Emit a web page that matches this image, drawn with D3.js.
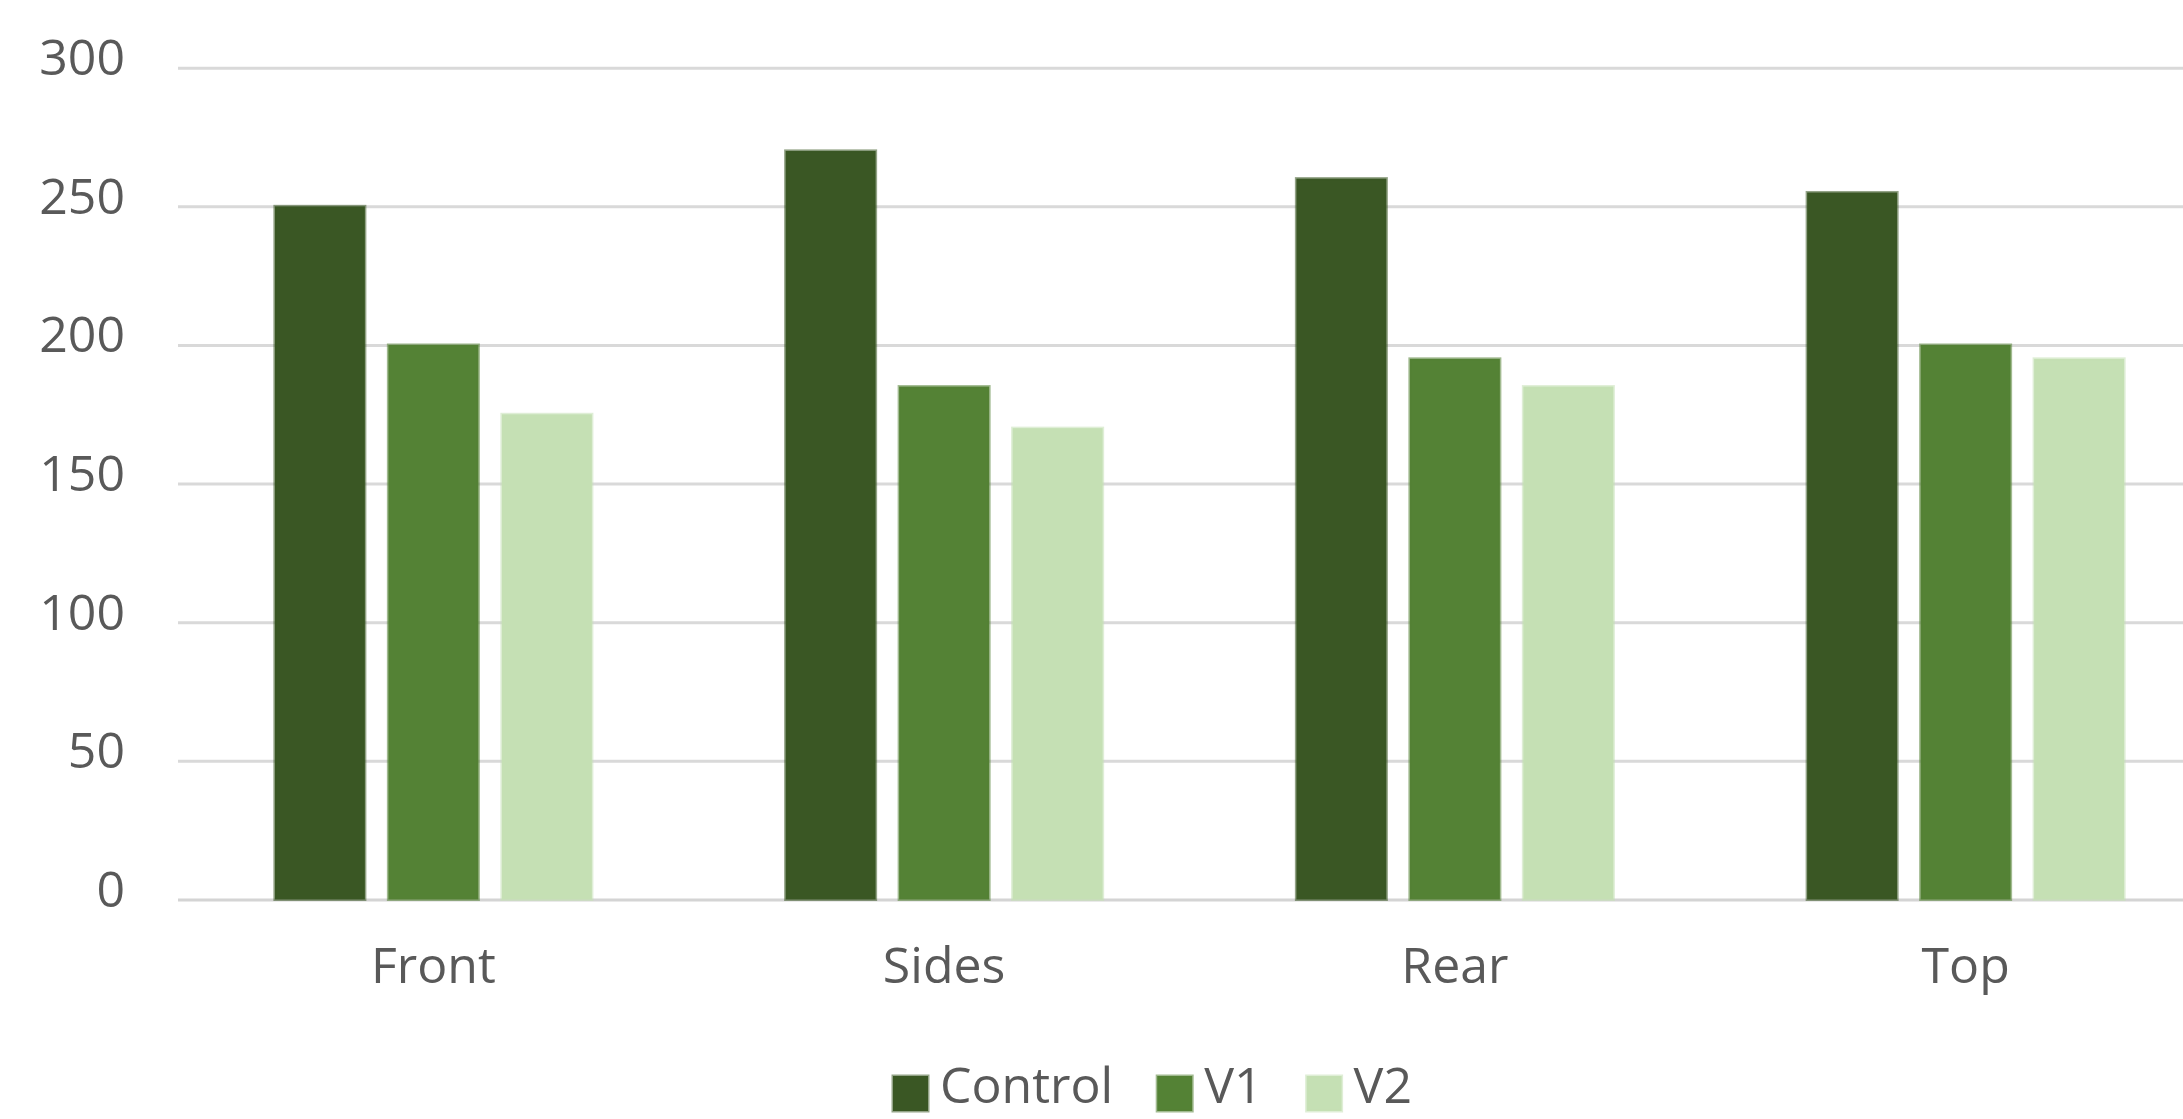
<!DOCTYPE html>
<html>
<head>
<meta charset="utf-8">
<script src="https://cdn.jsdelivr.net/npm/d3@7"></script>
<style>
  html, body { margin: 0; padding: 0; background: #ffffff; overflow: hidden; }
  svg { display: block; font-family: "Open Sans", "Segoe UI", sans-serif; }
</style>
</head>
<body>
<svg id="chart" width="2183" height="1119"></svg>
<script>
// Categories, series and values
const categories = ["Front", "Sides", "Rear", "Top"];
const seriesNames = ["Control", "V1", "V2"];
const controlValues = [250, 270, 260, 255];
const v1Values = [200, 185, 195, 200];
const v2Values = [175, 170, 185, 195];
const yTicks = [0, 50, 100, 150, 200, 250, 300];
const seriesColors = ["#3a5724", "#548235", "#c5e0b4"];

const seriesValues = [controlValues, v1Values, v2Values];
const rows = categories.map((c, i) => ({
  category: c,
  values: seriesNames.map((s, j) => ({ series: s, value: seriesValues[j][i] }))
}));

const svg = d3.select("#chart");

// Plot area (the category band of the last group runs past the right edge)
const plot = { left: 178, right: 2221, top: 67.7, bottom: 899.5 };

const y = d3.scaleLinear().domain([0, 300]).range([plot.bottom, plot.top]);
const x0 = d3.scaleBand().domain(categories).range([plot.left, plot.right]).padding(0);
const groupWidth = 317;
const x1 = d3.scaleBand().domain(seriesNames).range([0, groupWidth]).paddingInner(0.207).paddingOuter(0);
const color = d3.scaleOrdinal().domain(seriesNames).range(seriesColors);

// Gridlines
const grid = svg.append("g")
  .attr("transform", `translate(${plot.left},0)`)
  .call(d3.axisLeft(y).tickValues(yTicks).tickSize(-(plot.right - plot.left)).tickFormat(""));
grid.select(".domain").remove();
grid.selectAll(".tick line")
  .attr("stroke", d => d === 0 ? "#d4d4d4" : "#d9d9d9")
  .attr("stroke-width", 3);

// Y tick labels
const yAxis = svg.append("g")
  .attr("transform", `translate(125,0)`)
  .call(d3.axisLeft(y).tickValues(yTicks).tickSize(0).tickPadding(0));
yAxis.select(".domain").remove();
yAxis.selectAll(".tick text")
  .attr("font-family", "'Open Sans', sans-serif")
  .attr("font-size", 50)
  .attr("fill", "#595959")
  .attr("text-anchor", "end")
  .attr("dy", "0.32em")
  .attr("y", -9);

// Bars
const groups = svg.append("g").selectAll("g")
  .data(rows)
  .join("g")
  .attr("transform", d => `translate(${x0(d.category) + (x0.bandwidth() - groupWidth) / 2},0)`);

groups.selectAll("rect")
  .data(d => d.values)
  .join("rect")
  .attr("x", d => x1(d.series))
  .attr("width", x1.bandwidth())
  .attr("y", d => y(d.value))
  .attr("height", d => y(0) - y(d.value))
  .attr("fill", d => color(d.series))
  .attr("stroke", d => color(d.series))
  .attr("stroke-opacity", 0.55)
  .attr("stroke-width", 3);

// X category labels
const xAxis = svg.append("g")
  .attr("transform", `translate(0,${plot.bottom})`)
  .call(d3.axisBottom(x0).tickSize(0).tickPadding(0));
xAxis.select(".domain").remove();
xAxis.selectAll(".tick text")
  .attr("font-family", "'Open Sans', sans-serif")
  .attr("font-size", 50)
  .attr("fill", "#595959")
  .attr("dy", 0)
  .attr("y", 83.5);

// Legend
const legend = svg.append("g").attr("transform", "translate(893,0)");
let lx = 0;
seriesNames.forEach(name => {
  const item = legend.append("g").attr("transform", `translate(${lx},0)`);
  item.append("rect")
    .attr("x", 0).attr("y", 1076)
    .attr("width", 35).attr("height", 35)
    .attr("fill", color(name))
    .attr("stroke", color(name))
    .attr("stroke-opacity", 0.55)
    .attr("stroke-width", 3);
  const t = item.append("text")
    .attr("x", 47).attr("y", 1103)
    .attr("font-size", 50)
    .attr("fill", "#595959")
    .text(name);
  const w = t.node().getComputedTextLength();
  lx += 47 + w + 44;
});
</script>
</body>
</html>
